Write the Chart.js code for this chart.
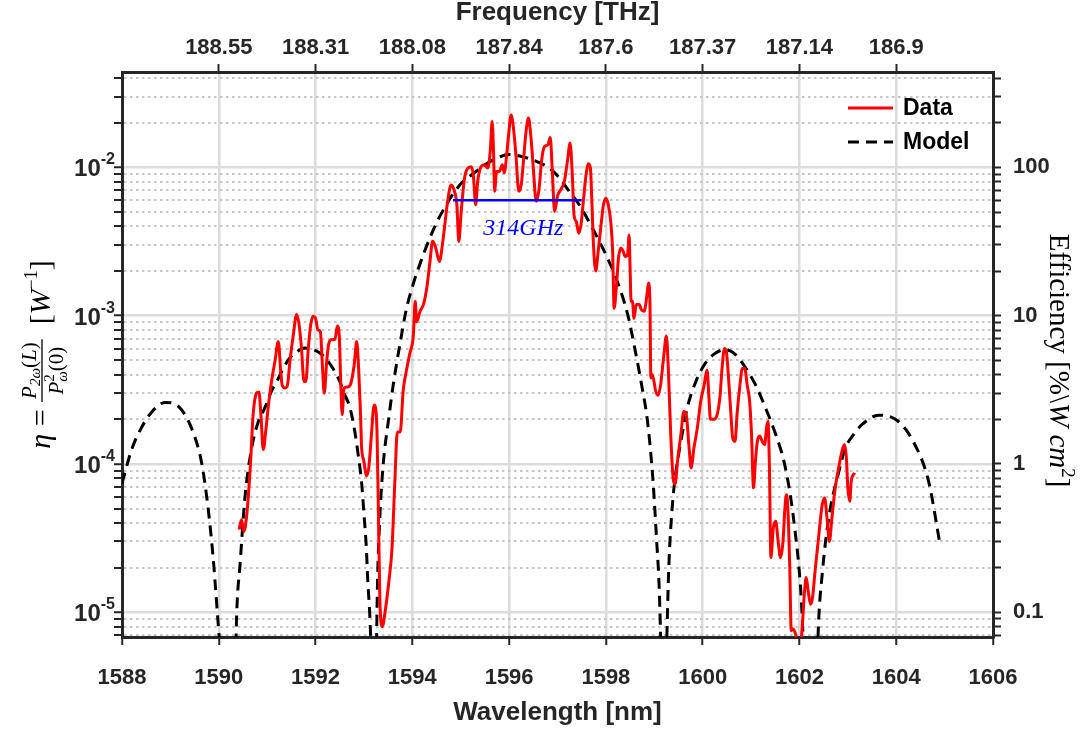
<!DOCTYPE html>
<html><head><meta charset="utf-8">
<script src="https://cdn.jsdelivr.net/npm/chart.js@4.4.1/dist/chart.umd.min.js"></script>
<style>html,body{margin:0;padding:0;background:#fff;}#wrap{width:1081px;height:733px;}</style>
</head><body><div id="wrap"><canvas id="c" width="1081" height="733"></canvas></div>
<script>
// ---------- data ----------
const dataWl = [1590.42,1590.47,1590.52,1590.58,1590.65,1590.71,1590.78,1590.83,1590.87,1590.92,1590.97,1591.02,1591.09,1591.16,1591.23,1591.28,1591.31,1591.37,1591.42,1591.47,1591.54,1591.61,1591.66,1591.71,1591.76,1591.80,1591.85,1591.90,1591.95,1592.00,1592.05,1592.10,1592.14,1592.18,1592.23,1592.27,1592.33,1592.40,1592.45,1592.49,1592.52,1592.55,1592.59,1592.66,1592.73,1592.80,1592.85,1592.89,1592.93,1592.95,1593.00,1593.05,1593.10,1593.15,1593.21,1593.24,1593.27,1593.30,1593.33,1593.38,1593.44,1593.51,1593.58,1593.64,1593.69,1593.75,1593.81,1593.88,1593.95,1594.02,1594.06,1594.09,1594.16,1594.23,1594.30,1594.36,1594.42,1594.48,1594.56,1594.63,1594.73,1594.80,1594.87,1594.92,1594.96,1595.01,1595.08,1595.15,1595.22,1595.26,1595.31,1595.35,1595.42,1595.49,1595.56,1595.61,1595.65,1595.68,1595.70,1595.74,1595.80,1595.86,1595.90,1595.95,1595.99,1596.04,1596.09,1596.14,1596.20,1596.25,1596.29,1596.35,1596.40,1596.45,1596.50,1596.56,1596.62,1596.67,1596.73,1596.80,1596.85,1596.89,1596.94,1597.00,1597.07,1597.14,1597.21,1597.26,1597.31,1597.34,1597.39,1597.44,1597.49,1597.54,1597.59,1597.64,1597.68,1597.71,1597.74,1597.79,1597.84,1597.90,1597.95,1598.00,1598.05,1598.10,1598.14,1598.17,1598.22,1598.26,1598.31,1598.36,1598.40,1598.45,1598.48,1598.50,1598.52,1598.55,1598.58,1598.63,1598.69,1598.73,1598.79,1598.85,1598.88,1598.91,1598.93,1598.96,1599.03,1599.08,1599.13,1599.20,1599.25,1599.29,1599.34,1599.39,1599.43,1599.48,1599.55,1599.61,1599.66,1599.72,1599.76,1599.82,1599.89,1599.96,1600.03,1600.09,1600.13,1600.16,1600.23,1600.30,1600.36,1600.40,1600.45,1600.49,1600.53,1600.58,1600.62,1600.67,1600.71,1600.77,1600.82,1600.87,1600.92,1600.97,1601.01,1601.05,1601.09,1601.13,1601.18,1601.23,1601.28,1601.32,1601.35,1601.38,1601.41,1601.46,1601.51,1601.56,1601.61,1601.66,1601.70,1601.73,1601.76,1601.80,1601.83,1601.87,1601.92,1601.97,1602.02,1602.07,1602.10,1602.14,1602.18,1602.23,1602.27,1602.33,1602.40,1602.47,1602.52,1602.57,1602.62,1602.67,1602.74,1602.81,1602.88,1602.93,1602.97,1603.00,1603.04,1603.07,1603.14];
const dataEta = [3.6e-5,4.2e-5,3.5e-5,4.6e-5,9.4e-5,2.15e-4,3.0e-4,3.06e-4,2.15e-4,1.25e-4,1.66e-4,2.38e-4,3.6e-4,4.9e-4,6.7e-4,4.2e-4,3.4e-4,3.25e-4,3.4e-4,4.9e-4,7.4e-4,1.02e-3,8.7e-4,6.0e-4,3.6e-4,3.6e-4,6.0e-4,8.7e-4,9.9e-4,9.6e-4,8.0e-4,7.8e-4,4.7e-4,3.0e-4,4.9e-4,6.4e-4,6.9e-4,6.9e-4,8.5e-4,7.3e-4,3.6e-4,2.15e-4,3.25e-4,3.3e-4,3.5e-4,4.7e-4,6.7e-4,4.4e-4,2.15e-4,1.32e-4,1.04e-4,8.3e-5,9.4e-5,1.5e-4,2.5e-4,2.4e-4,1.64e-4,4.5e-5,1.2e-5,8.0e-6,1.02e-5,1.56e-5,2.7e-5,7.8e-5,1.64e-4,1.64e-4,3.1e-4,4.3e-4,5.6e-4,7.3e-4,1.25e-3,9.1e-4,1.07e-3,1.19e-3,1.55e-3,2.25e-3,3.17e-3,2.89e-3,2.32e-3,3.17e-3,5.9e-3,7.6e-3,6.9e-3,5.6e-3,3.17e-3,5.05e-3,8.5e-3,9.9e-3,1.01e-2,8.9e-3,5.6e-3,8.0e-3,1.01e-2,1.04e-2,9.9e-3,1.28e-2,2.04e-2,1.22e-2,6.9e-3,9.4e-3,9.4e-3,1.04e-2,9.2e-3,1.22e-2,1.66e-2,2.26e-2,1.84e-2,1.22e-2,6.9e-3,7.6e-3,1.04e-2,1.75e-2,2.15e-2,1.62e-2,9.9e-3,5.9e-3,7.2e-3,1.1e-2,1.38e-2,1.42e-2,1.59e-2,9.9e-3,5.05e-3,6.4e-3,7.1e-3,8.0e-3,1.13e-2,1.46e-2,8.3e-3,4.8e-3,4.3e-3,3.6e-3,4.2e-3,6.2e-3,8.9e-3,1.06e-2,9.9e-3,5.9e-3,3.17e-3,2.0e-3,2.7e-3,4.1e-3,5.6e-3,6.2e-3,5.6e-3,4.3e-3,2.7e-3,1.12e-3,1.62e-3,2.44e-3,2.86e-3,2.7e-3,2.5e-3,2.6e-3,3.5e-3,2.1e-3,1.25e-3,1.25e-3,9.6e-4,1.19e-3,1.19e-3,1.1e-3,1.07e-3,1.39e-3,1.66e-3,1.25e-3,3.8e-4,4.0e-4,3.1e-4,2.9e-4,3.4e-4,5.5e-4,7.3e-4,4.4e-4,1.58e-4,8.0e-5,7.3e-5,1.04e-4,1.58e-4,2.26e-4,2.15e-4,1.28e-4,9.4e-5,1.28e-4,1.75e-4,2.65e-4,3.4e-4,4.3e-4,2.8e-4,2.0e-4,2.0e-4,2.15e-4,2.9e-4,4.4e-4,6.0e-4,5.7e-4,4.0e-4,2.26e-4,1.5e-4,1.42e-4,2.15e-4,3.4e-4,4.4e-4,4.4e-4,3.4e-4,2.65e-4,1.58e-4,6.9e-5,1.04e-4,1.42e-4,1.54e-4,1.42e-4,1.35e-4,1.75e-4,1.94e-4,9.4e-5,2.33e-5,3.7e-5,4.1e-5,3.0e-5,2.33e-5,3.0e-5,5.05e-5,6.2e-5,5.05e-5,2.0e-5,7.5e-6,7.7e-6,7.1e-6,6.0e-6,6.0e-6,9.2e-6,1.32e-5,1.71e-5,1.39e-5,1.13e-5,1.25e-5,2.0e-5,3.3e-5,5.3e-5,5.9e-5,4.3e-5,3.0e-5,4.3e-5,6.9e-5,9.4e-5,1.22e-4,1.35e-4,1.1e-4,6.9e-5,5.6e-5,7.6e-5,8.7e-5];

const modelWl = [1588.00,1588.20,1588.40,1588.62,1588.89,1589.16,1589.45,1589.65,1589.78,1589.88,1589.96,1590.05,1590.12,1590.30,1590.37,1590.44,1590.54,1590.68,1590.82,1590.95,1591.09,1591.20,1591.33,1591.47,1591.61,1591.78,1591.95,1592.09,1592.23,1592.36,1592.50,1592.60,1592.71,1592.81,1592.88,1592.95,1593.00,1593.05,1593.08,1593.12,1593.16,1593.20,1593.25,1593.28,1593.33,1593.40,1593.51,1593.61,1593.75,1593.88,1594.02,1594.15,1594.42,1594.70,1594.98,1595.32,1595.66,1596.01,1596.28,1596.56,1596.83,1597.04,1597.24,1597.45,1597.72,1598.00,1598.21,1598.45,1598.62,1598.75,1598.86,1598.97,1599.05,1599.10,1599.15,1599.20,1599.25,1599.30,1599.37,1599.44,1599.55,1599.68,1599.86,1600.06,1600.27,1600.47,1600.68,1600.89,1601.09,1601.30,1601.51,1601.68,1601.81,1601.92,1601.99,1602.04,1602.08,1602.15,1602.30,1602.36,1602.40,1602.47,1602.54,1602.64,1602.78,1602.95,1603.12,1603.29,1603.64,1604.04,1604.35,1604.67,1604.91];
const modelEta = [7.4e-5,1.25e-4,1.75e-4,2.25e-4,2.6e-4,2.45e-4,1.7e-4,1.0e-4,5.0e-5,2.4e-5,1.1e-5,4e-6,1e-6,1e-6,9.7e-6,2.1e-5,5.9e-5,1.28e-4,1.94e-4,2.38e-4,3.1e-4,3.6e-4,4.4e-4,5.2e-4,5.7e-4,6.05e-4,5.9e-4,5.6e-4,5.05e-4,4.4e-4,3.6e-4,2.95e-4,2.4e-4,1.66e-4,1.16e-4,7.6e-5,4.6e-5,2.7e-5,1.6e-5,9.7e-6,4e-6,1e-6,4e-6,1.56e-5,4.5e-5,1.01e-4,2.0e-4,3.5e-4,6.6e-4,1.12e-3,1.64e-3,2.2e-3,3.7e-3,5.6e-3,7.6e-3,9.4e-3,1.12e-2,1.22e-2,1.18e-2,1.1e-2,9.9e-3,8.5e-3,6.9e-3,5.6e-3,3.9e-3,2.58e-3,1.79e-3,1.02e-3,5.5e-4,3.25e-4,1.94e-4,8e-5,3e-5,1.5e-5,4e-6,1e-6,5e-6,2.0e-5,5.05e-5,8.5e-5,1.42e-4,2.38e-4,3.6e-4,4.8e-4,5.6e-4,5.9e-4,5.46e-4,4.43e-4,3.43e-4,2.38e-4,1.58e-4,1.04e-4,6.2e-5,3.3e-5,2.0e-5,1.2e-5,6e-6,1e-6,1e-6,4e-6,9.2e-6,1.8e-5,3.0e-5,5.05e-5,8.0e-5,1.28e-4,1.58e-4,1.84e-4,2.13e-4,1.94e-4,1.42e-4,7.6e-5,2.8e-5];

const bwWl = [1594.84, 1597.50];
const bwEta = [6.0e-3, 6.0e-3];
const bwLabel = '314GHz';

const xTicks = [1588,1590,1592,1594,1596,1598,1600,1602,1604,1606];
const topTicks = [1590,1592,1594,1596,1598,1600,1602,1604];
const freqLabels = ['188.55','188.31','188.08','187.84','187.6','187.37','187.14','186.9'];
const yDecades = [1e-5,1e-4,1e-3,1e-2];
const yDecadeExp = ['-5','-4','-3','-2'];
const rightDecades = [0.1,1,10,100];
const rightLabels = ['0.1','1','10','100'];
const legendNames = ['Data','Model'];

const X_MIN = 1588, X_MAX = 1606;
const Y_MIN = 6.8e-6, Y_MAX = 0.044, RIGHT_FACTOR = 1e4;

// ---------- styling ----------
const SANS = "'Liberation Sans', Arial, Helvetica, sans-serif";
const SERIF = "'Liberation Serif', 'Times New Roman', serif";
const FRAME = '#262626';
const TICKFONT = {family: SANS, size: 22, weight: 'bold'};

const isDecade = v => Math.abs(Math.log10(v) - Math.round(Math.log10(v))) < 1e-6;
function logTicks(min, max) {
  const out = [];
  for (let e = Math.floor(Math.log10(min)); e <= Math.ceil(Math.log10(max)); e++)
    for (let m = 1; m <= 9; m++) {
      const v = m * Math.pow(10, e);
      if (v >= min * 0.9999 && v <= max * 1.0001) out.push(v);
    }
  return out;
}
const gridColor = c => (c.tick && isDecade(c.tick.value)) ? '#dcdcdc' : '#c6c6c6';
const gridWidth = c => (c.tick && isDecade(c.tick.value)) ? 2.5 : 2;
const gridDash = c => (c.tick && !isDecade(c.tick.value)) ? [2.5, 3.5] : [];

// ---------- plugin: left tick labels, axis titles, legend, annotation ----------
const extras = {
  id: 'extras',
  afterDatasetsDraw(chart) {
    const ctx = chart.ctx;
    const xs = chart.scales.x, ys = chart.scales.y;
    ctx.save();
    ctx.fillStyle = '#0000ff';
    ctx.font = `italic 24px ${SERIF}`;
    ctx.textAlign = 'center';
    ctx.textBaseline = 'middle';
    const mx = xs.getPixelForValue((bwWl[0] + bwWl[1]) / 2) + 6;
    const my = ys.getPixelForValue(bwEta[0]) + 28;
    ctx.fillText(bwLabel, mx, my);
    ctx.restore();
  },
  afterDraw(chart) {
    const ctx = chart.ctx, ca = chart.chartArea;
    const ys = chart.scales.y;
    ctx.save();
    ctx.fillStyle = FRAME;
    yDecades.forEach((d, i) => {
      const y = ys.getPixelForValue(d);
      ctx.font = `bold 24px ${SANS}`;
      const bw = ctx.measureText('10').width;
      ctx.font = `bold 16px ${SANS}`;
      const sw = ctx.measureText(yDecadeExp[i]).width;
      const right = ca.left - 7;
      ctx.textBaseline = 'alphabetic';
      ctx.textAlign = 'left';
      ctx.font = `bold 24px ${SANS}`;
      ctx.fillText('10', right - sw - bw, y + 9);
      ctx.font = `bold 16px ${SANS}`;
      ctx.fillText(yDecadeExp[i], right - sw, y - 3);
    });
    drawLeftTitle(ctx, ca);
    drawRightTitle(ctx, ca);
    const ds = chart.data.datasets;
    const lx0 = ca.right - 145, lx1 = ca.right - 100, tx = ca.right - 90;
    [0, 1].forEach(k => {
      const y = ca.top + 36 + k * 34;
      ctx.strokeStyle = ds[k].borderColor;
      ctx.lineWidth = ds[k].borderWidth;
      ctx.setLineDash(ds[k].borderDash || []);
      ctx.beginPath(); ctx.moveTo(lx0, y); ctx.lineTo(lx1, y); ctx.stroke();
      ctx.setLineDash([]);
      ctx.fillStyle = '#000';
      ctx.font = `bold 23px ${SANS}`;
      ctx.textAlign = 'left'; ctx.textBaseline = 'middle';
      ctx.fillText(legendNames[k], tx, y + 1);
    });
    ctx.restore();
  }
};

const fnt = (style, size) => `${style} ${size}px ${SERIF}`;
function rowW(ctx, row) { return row.reduce((w, r) => { ctx.font = r.font; return w + (r.adv !== undefined ? r.adv : ctx.measureText(r.t).width); }, 0); }
function drawRow(ctx, row, x, y) { row.forEach(r => { ctx.font = r.font; ctx.fillText(r.t, x, y + r.dy); x += (r.adv !== undefined ? r.adv : ctx.measureText(r.t).width); }); return x; }

function drawLeftTitle(ctx, ca) {
  const yc = (ca.top + ca.bottom) / 2;
  const BX = 50;
  const big = 30, small = 21, tiny = 15;
  const pre = [{t: 'η', font: fnt('italic', big), dy: 0}, {t: ' = ', font: fnt('normal', big), dy: 0}];
  const num = [{t: 'P', font: fnt('italic', small), dy: 0}, {t: '2ω', font: fnt('italic', tiny), dy: 4},
               {t: '(', font: fnt('normal', small), dy: 0}, {t: 'L', font: fnt('italic', small), dy: 0}, {t: ')', font: fnt('normal', small), dy: 0}];
  const den = [{t: 'P', font: fnt('italic', small), dy: 0}, {t: '2', font: fnt('normal', tiny), dy: -9, adv: 0},
               {t: 'ω', font: fnt('italic', tiny), dy: 4}, {t: '(0)', font: fnt('normal', small), dy: 0}];
  const post = [{t: '  [', font: fnt('normal', big), dy: 0}, {t: 'W', font: fnt('italic', big), dy: 0},
                {t: '−1', font: fnt('normal', 18), dy: -13}, {t: ']', font: fnt('normal', big), dy: 0}];
  const wn = rowW(ctx, num), wd = rowW(ctx, den);
  const fw = Math.max(wn, wd) + 6;
  const total = rowW(ctx, pre) + fw + rowW(ctx, post);
  ctx.save();
  ctx.translate(BX, yc);
  ctx.rotate(-Math.PI / 2);
  ctx.fillStyle = '#000';
  ctx.textAlign = 'left';
  ctx.textBaseline = 'alphabetic';
  let x = -total / 2;
  x = drawRow(ctx, pre, x, 0);
  ctx.strokeStyle = '#000'; ctx.lineWidth = 1.3;
  ctx.beginPath(); ctx.moveTo(x, -8); ctx.lineTo(x + fw, -8); ctx.stroke();
  drawRow(ctx, num, x + (fw - wn) / 2, -14);
  drawRow(ctx, den, x + (fw - wd) / 2, 13);
  x += fw;
  drawRow(ctx, post, x, 0);
  ctx.restore();
}

function drawRightTitle(ctx, ca) {
  const yc = (ca.top + ca.bottom) / 2 + 6;
  const BX = 1050;
  const s = 29;
  const row = [{t: 'Efficiency [%\\', font: fnt('normal', s), dy: 0}, {t: 'W', font: fnt('italic', s), dy: 0},
               {t: ' ', font: fnt('normal', s), dy: 0}, {t: 'cm', font: fnt('italic', s), dy: 0},
               {t: '2', font: fnt('normal', 19), dy: -12}, {t: ']', font: fnt('normal', s), dy: 0}];
  const total = rowW(ctx, row);
  ctx.save();
  ctx.translate(BX, yc);
  ctx.rotate(Math.PI / 2);
  ctx.fillStyle = '#000';
  ctx.textAlign = 'left';
  ctx.textBaseline = 'alphabetic';
  drawRow(ctx, row, -total / 2, 0);
  ctx.restore();
}

// ---------- chart ----------
const ctx = document.getElementById('c').getContext('2d');
new Chart(ctx, {
  type: 'line',
  data: {
    datasets: [
      {label: legendNames[0], data: dataWl.map((x, i) => ({x, y: dataEta[i]})), borderColor: '#ff0000', borderWidth: 3,
       pointRadius: 0, cubicInterpolationMode: 'monotone', xAxisID: 'x', yAxisID: 'y', order: 1},
      {label: legendNames[1], data: modelWl.map((x, i) => ({x, y: modelEta[i]})), borderColor: '#000000', borderWidth: 3,
       borderDash: [11, 7], pointRadius: 0, cubicInterpolationMode: 'monotone', xAxisID: 'x', yAxisID: 'y', order: 2},
      {label: 'bandwidth', data: bwWl.map((x, i) => ({x, y: bwEta[i]})), borderColor: '#0000ff', borderWidth: 2.5,
       pointRadius: 0, xAxisID: 'x', yAxisID: 'y', order: 0}
    ]
  },
  options: {
    responsive: false,
    animation: false,
    events: [],
    layout: {padding: 0},
    plugins: {legend: {display: false}, tooltip: {enabled: false}},
    scales: {
      x: {
        type: 'linear', position: 'bottom', min: X_MIN, max: X_MAX,
        afterBuildTicks: s => { s.ticks = xTicks.map(v => ({value: v})); },
        afterFit: s => { s.height = 96; },
        ticks: {font: TICKFONT, color: FRAME, padding: 20, autoSkip: false, maxRotation: 0, callback: v => String(v)},
        grid: {color: c => (c.tick && (c.tick.value === X_MIN || c.tick.value === X_MAX)) ? 'rgba(0,0,0,0)' : '#dcdcdc',
               lineWidth: 2.5, tickColor: FRAME, tickLength: 8, tickWidth: 2},
        border: {color: FRAME, width: 3},
        title: {display: true, text: 'Wavelength [nm]', color: FRAME, font: {family: SANS, size: 26, weight: 'bold', lineHeight: 1.2}, padding: {top: 0, bottom: 5}}
      },
      x2: {
        type: 'linear', position: 'top', min: X_MIN, max: X_MAX,
        afterBuildTicks: s => { s.ticks = topTicks.map(v => ({value: v})); },
        afterFit: s => { s.height = 72; },
        ticks: {font: TICKFONT, color: FRAME, padding: 3, autoSkip: false, maxRotation: 0, callback: (v, i) => freqLabels[i]},
        grid: {drawOnChartArea: false, tickColor: FRAME, tickLength: 8, tickWidth: 2},
        border: {color: FRAME, width: 3},
        title: {display: true, text: 'Frequency [THz]', color: FRAME, font: {family: SANS, size: 26, weight: 'bold', lineHeight: 1}, padding: {top: 0, bottom: 0}}
      },
      y: {
        type: 'logarithmic', position: 'left', min: Y_MIN, max: Y_MAX,
        afterBuildTicks: s => { s.ticks = logTicks(Y_MIN, Y_MAX).map(v => ({value: v})); },
        afterFit: s => { s.width = 122; },
        ticks: {display: false, autoSkip: false},
        grid: {color: gridColor, lineWidth: gridWidth, tickColor: FRAME, tickLength: 8, tickWidth: 2},
        border: {color: FRAME, width: 3, dash: gridDash}
      },
      y2: {
        type: 'logarithmic', position: 'right', min: Y_MIN * RIGHT_FACTOR, max: Y_MAX * RIGHT_FACTOR,
        afterBuildTicks: s => { s.ticks = logTicks(Y_MIN * RIGHT_FACTOR, Y_MAX * RIGHT_FACTOR).map(v => ({value: v})); },
        afterFit: s => { s.width = 88; },
        ticks: {font: TICKFONT, color: FRAME, padding: 12, autoSkip: false,
                callback: v => { const k = rightDecades.findIndex(d => Math.abs(d - v) / d < 1e-6); return k >= 0 ? rightLabels[k] : ''; }},
        grid: {drawOnChartArea: false, tickColor: FRAME, tickLength: 8, tickWidth: 2},
        border: {color: FRAME, width: 3}
      }
    }
  },
  plugins: [extras]
});
</script>
</body></html>
